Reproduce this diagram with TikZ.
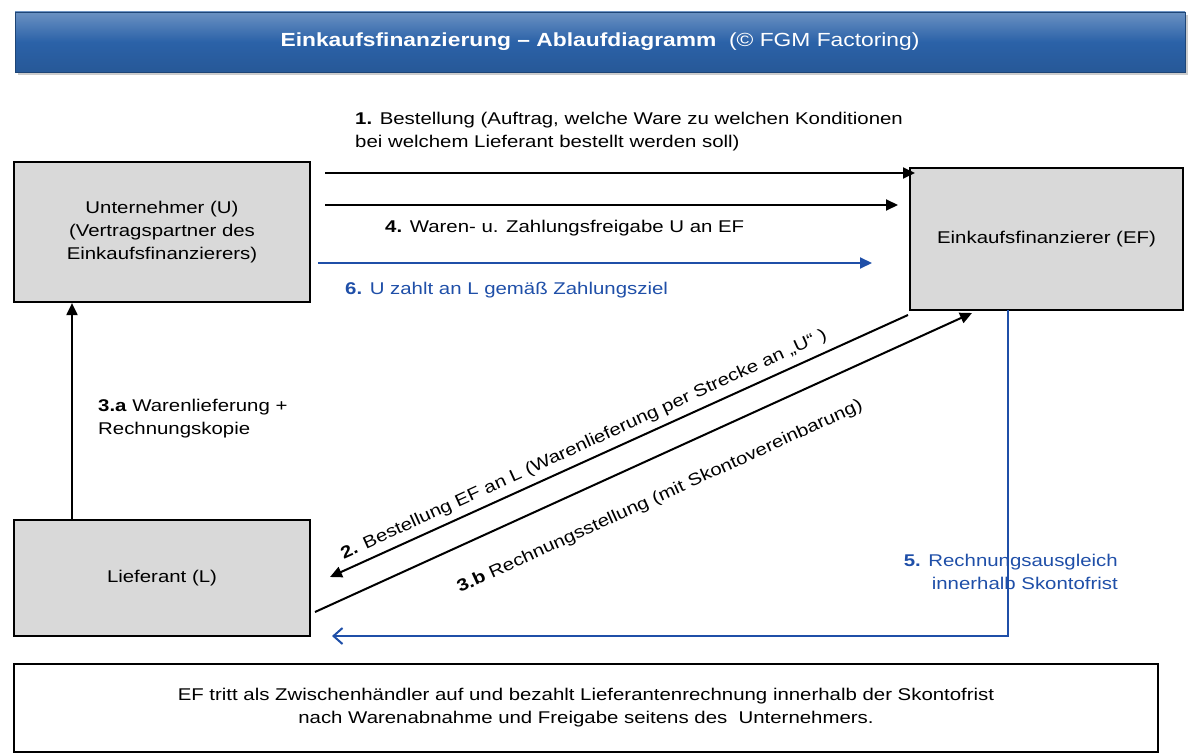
\documentclass[tikz,border=0pt]{standalone}
\usepackage{fontspec}
\setmainfont[FakeStretch=1.2]{Liberation Sans}
\usetikzlibrary{arrows.meta,shadows}
\definecolor{dblue}{HTML}{1F4FA8}
\definecolor{tblue}{HTML}{2B62A8}
\definecolor{boxgray}{HTML}{D9D9D9}
\begin{document}
\begin{tikzpicture}[x=1pt,y=-1pt,
  txt/.style={font=\fontsize{17}{23}\selectfont,align=left,inner sep=0pt},
  gbox/.style={draw=black,line width=2.2pt,fill=boxgray,font=\fontsize{17}{23}\selectfont,align=center},
  arr/.style={line width=2pt,-{Triangle[length=12pt,width=11pt]}},
  barr/.style={draw=dblue,line width=2pt,-{Triangle[length=12pt,width=11pt]}}]
\useasboundingbox (0,0) rectangle (1200,754);
% title
\node (title) [minimum width=1170pt,minimum height=60pt,top color=tblue!70!white,bottom color=tblue!90!black,middle color=tblue,draw=tblue!70!black,drop shadow={opacity=0.4},text=white,font=\fontsize{19}{22}\selectfont] at (600,42) {\textbf{Einkaufsfinanzierung – Ablaufdiagramm} \ (© FGM Factoring)};
% boxes
\node (U) [gbox,minimum width=296pt,minimum height=140pt] at (162,232) {Unternehmer (U)\\(Vertragspartner des\\Einkaufsfinanzierers)};
\node (EF) [gbox,minimum width=273pt,minimum height=142pt] at (1046.5,239) {Einkaufsfinanzierer (EF)};
\node (L) [gbox,minimum width=296pt,minimum height=116pt] at (162,578) {Lieferant (L)};
\node (note) [draw=black,line width=1.5pt,fill=white,minimum width=1144pt,minimum height=88pt,align=center,font=\fontsize{17}{23}\selectfont] at (586,708) {EF tritt als Zwischenhändler auf und bezahlt Lieferantenrechnung innerhalb der Skontofrist\\nach Warenabnahme und Freigabe seitens des \ Unternehmers.};
% coordinates
\coordinate (a1s) at (325,173); \coordinate (a1e) at (915,173);
\coordinate (a4s) at (325,205); \coordinate (a4e) at (898,205);
\coordinate (a6s) at (318,263); \coordinate (a6e) at (872,263);
\coordinate (d2s) at (908,315); \coordinate (d2e) at (330,577);
\coordinate (d3s) at (315,612); \coordinate (d3e) at (972,313);
\coordinate (b5a) at (1008,310); \coordinate (b5b) at (1008,636); \coordinate (b5e) at (332,636);
% arrows
\draw[arr] (a1s) -- (a1e);
\draw[arr] (a4s) -- (a4e);
\draw[barr] (a6s) -- (a6e);
\draw[arr] (L.north -| 72,0) -- (U.south -| 72,0);
\draw[arr] (d2s) -- (d2e);
\draw[arr] (d3s) -- (d3e);
\node (l2) [rotate=24.5,font=\fontsize{17}{23}\selectfont,inner sep=0pt] at (584,445) {\textbf{2.} Bestellung EF an L (Warenlieferung per Strecke an „U“ )};
\node (l3b) [rotate=24.5,font=\fontsize{17}{23}\selectfont,inner sep=0pt] at (660,497) {\textbf{3.b} Rechnungsstellung (mit Skontovereinbarung)};
\draw[dblue,line width=2pt,-{Straight Barb[length=9pt,width=16pt]}] (b5a) -- (b5b) -- (b5e);
% labels
\node (l1) [txt,anchor=north west] at (355,112) {\textbf{1.} Bestellung (Auftrag, welche Ware zu welchen Konditionen\\bei welchem Lieferant bestellt werden soll)};
\node (l4) [txt,anchor=west] at (385,228) {\textbf{4.} Waren- u. Zahlungsfreigabe U an EF};
\node (l6) [txt,anchor=west,text=dblue] at (345,290) {\textbf{6.} U zahlt an L gemäß Zahlungsziel};
\node (l3a) [txt,anchor=north west] at (98,399) {\textbf{3.a} Warenlieferung +\\Rechnungskopie};
\node (l5) [txt,anchor=north east,text=dblue,align=right] at (1118,554) {\textbf{5.} Rechnungsausgleich\\innerhalb Skontofrist};
\end{tikzpicture}
\end{document}
